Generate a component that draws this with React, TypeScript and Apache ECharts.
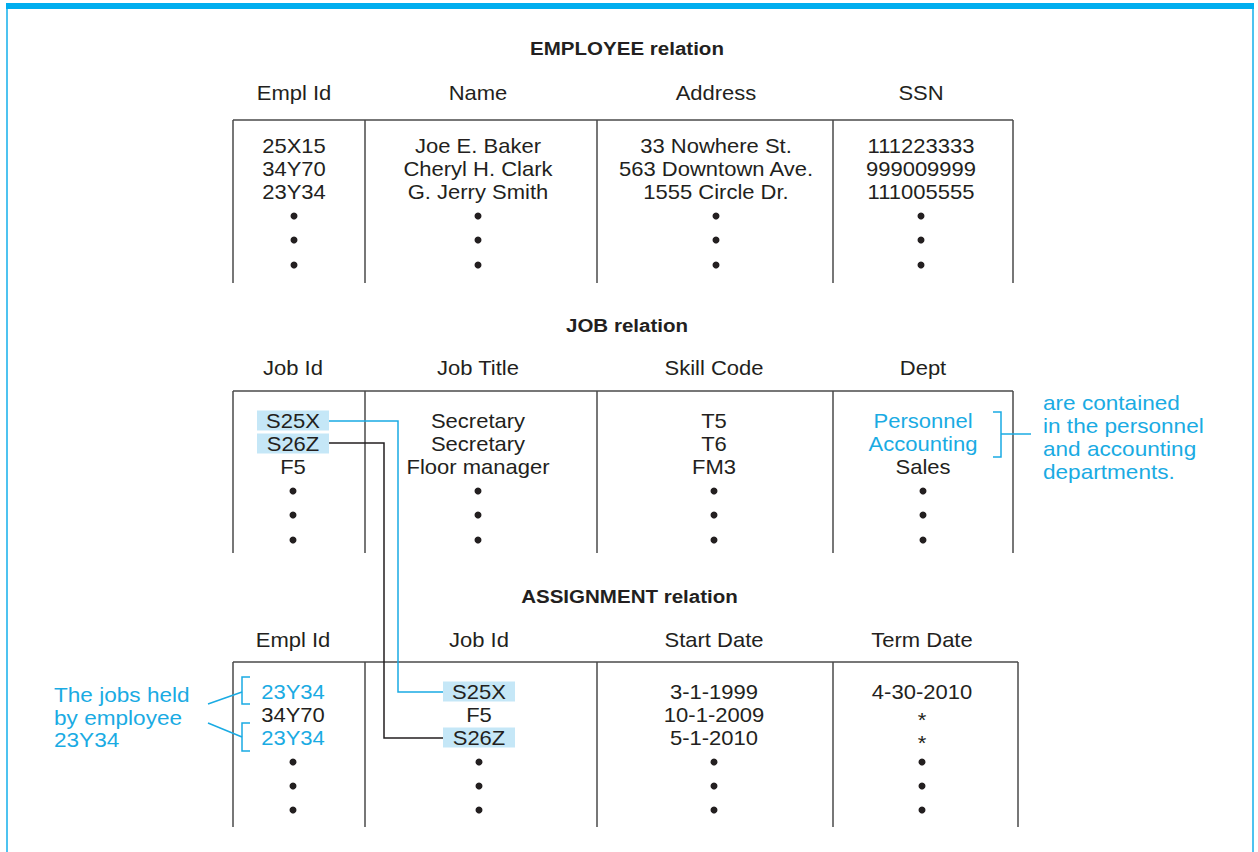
import React, { useEffect, useRef } from "react";
import * as echarts from "echarts";

// ---------- data ----------
const employeeColumns = ["Empl Id", "Name", "Address", "SSN"];
const employeeIds = ["25X15", "34Y70", "23Y34"];
const employeeNames = ["Joe E. Baker", "Cheryl H. Clark", "G. Jerry Smith"];
const employeeAddresses = ["33 Nowhere St.", "563 Downtown Ave.", "1555 Circle Dr."];
const employeeSSNs = ["111223333", "999009999", "111005555"];

const jobColumns = ["Job Id", "Job Title", "Skill Code", "Dept"];
const jobIds = ["S25X", "S26Z", "F5"];
const jobTitles = ["Secretary", "Secretary", "Floor manager"];
const skillCodes = ["T5", "T6", "FM3"];
const depts = ["Personnel", "Accounting", "Sales"];

const assignColumns = ["Empl Id", "Job Id", "Start Date", "Term Date"];
const assignEmplIds = ["23Y34", "34Y70", "23Y34"];
const assignJobIds = ["S25X", "F5", "S26Z"];
const startDates = ["3-1-1999", "10-1-2009", "5-1-2010"];
const termDates = ["4-30-2010", "*", "*"];

const tableTitles = ["EMPLOYEE relation", "JOB relation", "ASSIGNMENT relation"];
const deptNote = ["are contained", "in the personnel", "and accounting", "departments."];
const emplNote = ["The jobs held", "by employee", "23Y34"];

// highlighted rows
const jobHighlightRows = [0, 1];
const assignJobHighlightRows = [0, 2];
const blueDeptRows = [0, 1];
const blueAssignEmplRows = [0, 2];

// ---------- styles / layout ----------
const FONT = "'Liberation Sans', Arial, Helvetica, sans-serif";
const INK = "#231F20";
const CYAN = "#1AABE3";
const BAR = "#00AEEF";
const HILITE = "#C5E7F7";
const RULE = "#4a4a4a";
const SX = 1.1;
const NOTE_SX = 1.13;

type Layout = {
  titleY: number;
  headerY: number;
  topY: number;
  rowYs: number[];
  dotYs: number[];
  bottomY: number;
  dividers: number[];
  centers: number[];
};

const layouts: Layout[] = [
  {
    titleY: 48, headerY: 93, topY: 120,
    rowYs: [146, 169, 192], dotYs: [216, 240, 265], bottomY: 283,
    dividers: [233, 365, 597, 833, 1013], centers: [294, 478, 716, 921],
  },
  {
    titleY: 325, headerY: 368, topY: 391,
    rowYs: [421, 444, 467], dotYs: [491, 515, 540], bottomY: 553,
    dividers: [233, 365, 597, 833, 1013], centers: [293, 478, 714, 923],
  },
  {
    titleY: 596, headerY: 640, topY: 662,
    rowYs: [692, 715, 738], dotYs: [762, 786, 810], bottomY: 827,
    dividers: [233, 365, 597, 833, 1018], centers: [293, 479, 714, 922],
  },
];

function txt(text: string, x: number, y: number, opts: any = {}) {
  return {
    type: "text",
    x,
    y,
    scaleX: opts.scaleX ?? SX,
    z: 10,
    style: {
      text,
      x: 0,
      y: 0,
      fill: opts.fill ?? INK,
      fontSize: opts.fontSize ?? 20,
      fontWeight: opts.fontWeight ?? "normal",
      fontFamily: FONT,
      align: opts.align ?? "center",
      verticalAlign: "middle",
    },
  };
}

function ln(x1: number, y1: number, x2: number, y2: number, stroke = RULE, lineWidth = 1.5) {
  return { type: "line", z: 5, shape: { x1, y1, x2, y2 }, style: { stroke, lineWidth } };
}

function buildElements() {
  const els: any[] = [];

  // frame
  els.push({ type: "rect", shape: { x: 6, y: 3, width: 1248, height: 6 }, style: { fill: BAR } });
  els.push({ type: "rect", shape: { x: 6, y: 9, width: 2, height: 843 }, style: { fill: "#4EC3F0" } });
  els.push({ type: "rect", shape: { x: 1252, y: 9, width: 2, height: 843 }, style: { fill: "#4EC3F0" } });

  const tableCols = [
    [employeeIds, employeeNames, employeeAddresses, employeeSSNs],
    [jobIds, jobTitles, skillCodes, depts],
    [assignEmplIds, assignJobIds, startDates, termDates],
  ];
  const headers = [employeeColumns, jobColumns, assignColumns];

  layouts.forEach((L, t) => {
    const mid = (L.dividers[0] + L.dividers[L.dividers.length - 1]) / 2;
    els.push(txt(tableTitles[t], mid + 4, L.titleY, { fontWeight: "bold", fontSize: 18.5, scaleX: 1.11 }));
    headers[t].forEach((h, c) => els.push(txt(h, L.centers[c], L.headerY)));
    // top rule
    els.push(ln(L.dividers[0], L.topY, L.dividers[L.dividers.length - 1], L.topY));
    // verticals
    L.dividers.forEach((x) => els.push(ln(x, L.topY, x, L.bottomY)));
    // cells
    tableCols[t].forEach((col, c) => {
      col.forEach((v, r) => {
        let fill = INK;
        if (t === 1 && c === 3 && blueDeptRows.includes(r)) fill = CYAN;
        if (t === 2 && c === 0 && blueAssignEmplRows.includes(r)) fill = CYAN;
        const dy = v === "*" ? 5 : 0;
        els.push(txt(v, L.centers[c], L.rowYs[r] + dy, { fill }));
      });
      L.dotYs.forEach((dy) =>
        els.push({ type: "circle", z: 10, shape: { cx: L.centers[c], cy: dy, r: 3.5 }, style: { fill: INK } })
      );
    });
  });

  // highlight boxes
  const BW = 72, BH = 20;
  const jobL = layouts[1], asgL = layouts[2];
  jobHighlightRows.forEach((r) =>
    els.push({ type: "rect", z: 2, shape: { x: jobL.centers[0] - BW / 2, y: jobL.rowYs[r] - 10.5, width: BW, height: BH }, style: { fill: HILITE } })
  );
  assignJobHighlightRows.forEach((r) =>
    els.push({ type: "rect", z: 2, shape: { x: asgL.centers[1] - BW / 2, y: asgL.rowYs[r] - 10.5, width: BW, height: BH }, style: { fill: HILITE } })
  );

  // connectors
  const jx = jobL.centers[0] + BW / 2;
  const ax = asgL.centers[1] - BW / 2;
  els.push({
    type: "polyline", z: 6,
    shape: { points: [[jx, jobL.rowYs[0]], [398, jobL.rowYs[0]], [398, asgL.rowYs[0]], [ax, asgL.rowYs[0]]] },
    style: { stroke: CYAN, lineWidth: 1.5, fill: null },
  });
  els.push({
    type: "polyline", z: 6,
    shape: { points: [[jx, jobL.rowYs[1] - 1], [384, jobL.rowYs[1] - 1], [384, asgL.rowYs[2]], [ax, asgL.rowYs[2]]] },
    style: { stroke: INK, lineWidth: 1.5, fill: null },
  });

  // dept bracket + note
  els.push({
    type: "polyline", z: 6,
    shape: { points: [[993, 412], [1001, 412], [1001, 457], [993, 457]] },
    style: { stroke: CYAN, lineWidth: 1.5, fill: null },
  });
  els.push(ln(1001, 434, 1031, 434, CYAN));
  const noteYs = [403, 426, 449, 472];
  deptNote.forEach((s, i) => els.push(txt(s, 1043, noteYs[i], { fill: CYAN, align: "left", scaleX: NOTE_SX })));

  // employee brackets + note
  const brackets = [[677, 704], [723, 751]];
  brackets.forEach(([a, b]) =>
    els.push({
      type: "polyline", z: 6,
      shape: { points: [[250, a], [242, a], [242, b], [250, b]] },
      style: { stroke: CYAN, lineWidth: 1.5, fill: null },
    })
  );
  els.push(ln(208, 704, 242, 692, CYAN));
  els.push(ln(208, 723, 242, 737, CYAN));
  const emplYs = [695, 718, 740];
  emplNote.forEach((s, i) => els.push(txt(s, 54, emplYs[i], { fill: CYAN, align: "left", scaleX: NOTE_SX })));

  return els;
}

export default function App() {
  const ref = useRef<HTMLDivElement>(null);
  useEffect(() => {
    if (!ref.current) return;
    const chart = echarts.init(ref.current, null, { renderer: "svg" });
    chart.setOption({
      animation: false,
      backgroundColor: "#ffffff",
      graphic: { elements: buildElements() },
    });
    return () => chart.dispose();
  }, []);
  return (
    <div
      ref={ref}
      style={{ position: "absolute", left: 0, top: 0, width: 1258, height: 852, background: "#fff" }}
    />
  );
}
